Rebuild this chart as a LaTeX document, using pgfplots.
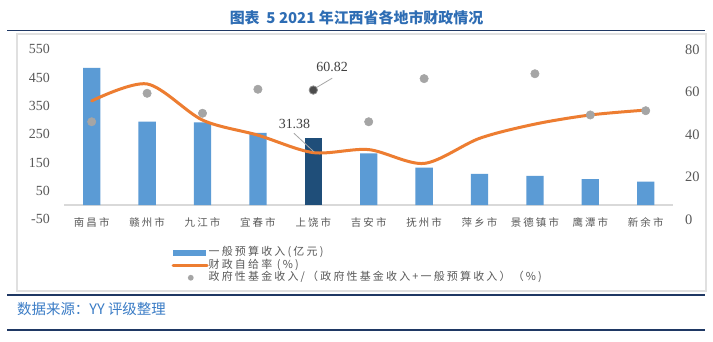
\documentclass[border=0pt]{standalone}
\usepackage{pgfplots}
\pgfplotsset{compat=1.18}
\usepackage{fontspec}
\setmainfont{Liberation Serif}
\newfontfamily\cjk[LetterSpace=20]{Noto Sans CJK SC}
\newfontfamily\cjkplain{Noto Sans CJK SC}
\definecolor{barblue}{HTML}{5B9BD5}
\definecolor{bardark}{HTML}{1F4E79}
\definecolor{lineorange}{HTML}{ED7D31}
\definecolor{dotgray}{HTML}{A5A5A5}
\definecolor{navy}{HTML}{1F3864}
\definecolor{titleblue}{HTML}{2E6DB4}
\definecolor{srcblue}{HTML}{3A7CC6}
\definecolor{txtgray}{HTML}{595959}
\definecolor{framegray}{HTML}{E0E0E0}
\definecolor{zerogray}{HTML}{D9D9D9}
\begin{document}
\begin{tikzpicture}[x=1bp,y=1bp]
\useasboundingbox (0,0) rectangle (713,341);
\fill[white] (0,0) rectangle (713,341);
\node[font=\cjkplain\bfseries\fontsize{15}{18}\selectfont, text=titleblue] at (356.5,323) {图表\ \ 5 2021 年江西省各地市财政情况};
\draw[navy, line width=1.5bp] (7,310.5) -- (705,310.5);
\draw[framegray, line width=1.5bp] (17,50) rectangle (706,307);
\draw[navy, line width=1.5bp] (7,46) -- (705,46);
\draw[navy, line width=1.5bp] (7,11) -- (705,11);
\node[anchor=west, inner sep=0pt, font=\cjkplain\fontsize{14.5}{17}\selectfont, text=srcblue] at (17,31.7) {数据来源：YY 评级整理};

\begin{axis}[
  at={(64bp,121.7bp)}, anchor=south west,
  scale only axis, width=609.4bp, height=170bp,
  xmin=-0.5, xmax=10.5, ymin=-50, ymax=550,
  ytick={-50,50,150,250,350,450,550},
  xtick={0,...,10},
  xticklabels={南昌市,赣州市,九江市,宜春市,上饶市,吉安市,抚州市,萍乡市,景德镇市,鹰潭市,新余市},
  xticklabel style={font=\cjk\fontsize{10.5}{12}\selectfont, text=txtgray, anchor=center, yshift=-3.4bp},
  yticklabel style={font=\fontsize{14}{16}\selectfont, text=txtgray, inner sep=0pt, xshift=-14bp},
  /pgf/number format/assume math mode=true,
  axis line style={draw=none}, tick style={draw=none},
  clip=false,
]
\draw[zerogray, line width=2bp] (axis cs:-0.5,0) -- (axis cs:10.5,0);
\addplot[ybar, bar width=17.3bp, bar shift=0pt, fill=barblue, draw=none] coordinates {
(0,484) (1,294.5) (2,292) (3,254.6) (5,183) (6,132) (7,110) (8,103) (9,92) (10,82.8)};
\addplot[ybar, bar width=17.3bp, bar shift=0pt, fill=bardark, draw=none] coordinates {(4,238)};
\end{axis}

\begin{axis}[
  at={(64bp,121.7bp)}, anchor=south west,
  scale only axis, width=609.4bp, height=170bp,
  xmin=-0.5, xmax=10.5, ymin=0, ymax=80,
  ytick={0,20,40,60,80}, xtick=\empty,
  yticklabel pos=right,
  yticklabel style={font=\fontsize{14.5}{16}\selectfont, text=txtgray, inner sep=0pt, xshift=11.6bp},
  /pgf/number format/assume math mode=true,
  axis line style={draw=none}, tick style={draw=none},
  clip=false,
  legend style={at={(axis description cs:0.1767,-0.160)}, anchor=north west,
    draw=none, fill=none, inner sep=0pt, outer sep=0pt, row sep=0pt,
    font=\cjk\fontsize{11}{13}\selectfont, text=txtgray,
    cells={anchor=west},
    nodes={inner sep=0pt, text height=9bp, text depth=3.5bp},
    /tikz/every even column/.append style={column sep=3bp}},
]
\addlegendimage{legend image code/.code={\fill[barblue, draw=none] (0bp,-3bp) rectangle (33bp,3bp); \path[draw=none, fill=none] (0bp,-4.5bp) rectangle (34bp,4.5bp);}}
\addlegendentry{一般预算收入(亿元)}
\addplot[smooth, lineorange, line width=3bp, line cap=round, mark=none,
  legend image code/.code={\draw[lineorange, line width=3bp] (0bp,0bp) -- (34bp,0bp); \path[draw=none, fill=none] (0bp,-4.5bp) rectangle (34bp,4.5bp);}]
 coordinates {(0,55.7) (1,63.7) (2,46.7) (3,39.6) (4,31.38) (5,32.8) (6,26.3) (7,38.1) (8,44.8) (9,49.1) (10,51.4)};
\addlegendentry{财政自给率 (\%)}
\addplot[only marks, mark=*, mark size=4.2bp, color=dotgray, line width=0.5bp, mark options={solid, fill=dotgray, draw=dotgray, line width=0.5bp},
  legend image code/.code={\path[draw=none, fill=none] (0bp,-4.5bp) rectangle (34bp,4.5bp); \fill[dotgray, draw=none] (17.6bp,0bp) circle (2.9bp);}]
 coordinates {(0,45.9) (1,59.3) (2,49.9) (3,61.2) (5,45.9) (6,66.2) (8,68.5) (9,49.1) (10,51.1)};
\addlegendentry{政府性基金收入/（政府性基金收入+一般预算收入）（\%)}
\addplot[only marks, mark=*, mark size=4.2bp, color=black!70, line width=0.8bp, mark options={solid, fill=black!70, draw=black!45, line width=0.8bp}, forget plot]
 coordinates {(4,60.82)};
\draw[gray!70, line width=0.8bp] (axis cs:3.98,60.82) -- (axis cs:4.34,66.4);
\node[font=\fontsize{14}{16}\selectfont, text=black!75] at (axis cs:4.34,71.7) {60.82};
\draw[gray!70, line width=0.8bp] (axis cs:3.65,40.5) -- (axis cs:4.01,31.8);
\node[font=\fontsize{14}{16}\selectfont, text=black!75] at (axis cs:3.66,44.85) {31.38};
\end{axis}
\end{tikzpicture}
\end{document}
